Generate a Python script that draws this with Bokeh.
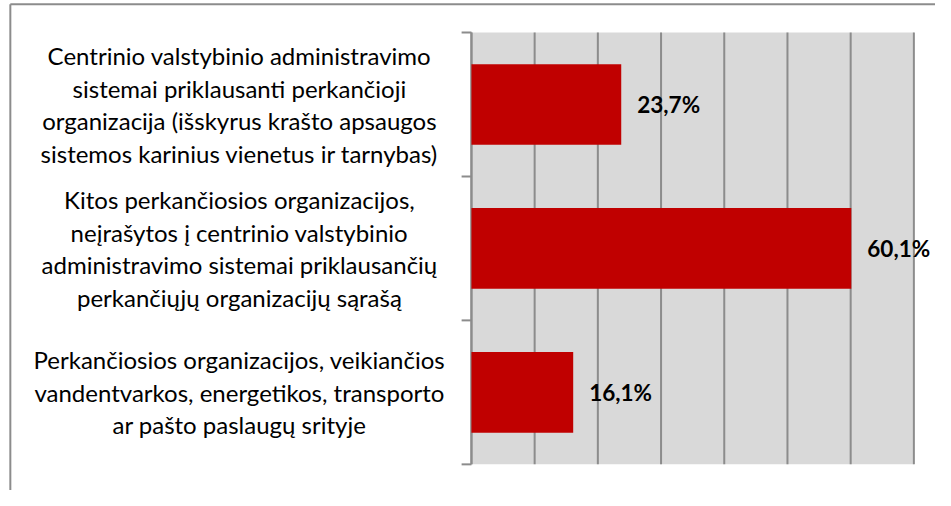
from bokeh.plotting import figure
from bokeh.models import Range1d, ColumnDataSource, BoxAnnotation
from bokeh.embed import file_html
from bokeh.resources import INLINE
from bokeh.core.properties import value

categories = [
    "Centrinio valstybinio administravimo\nsistemai priklausanti perkančioji\norganizacija (išskyrus krašto apsaugos\nsistemos karinius vienetus ir tarnybas)",
    "Kitos perkančiosios organizacijos,\nneįrašytos į centrinio valstybinio\nadministravimo sistemai priklausančių\nperkančiųjų organizacijų sąrašą",
    "Perkančiosios organizacijos, veikiančios\nvandentvarkos, energetikos, transporto\nar pašto paslaugų srityje",
]
shares = [23.7, 60.1, 16.1]
value_labels = ["23,7%", "60,1%", "16,1%"]
x_ticks = [0, 10, 20, 30, 40, 50, 60, 70]

# ---- layout (pixels inside the figure) ----
W, H = 935, 490
SX, SY = W / 951, H / 506
PL, PR, PT, PB = 479 * SX, 929 * SX, 33 * SY, 479 * SY   # plot-area edges
n = len(categories)
xmax = x_ticks[-1]
kx = (PR - PL) / xmax                        # px per % unit
ky = (PB - PT) / n                           # px per category

x_range = Range1d(-PL / kx, (W - PL) / kx)
y_range = Range1d(-(H - PB) / ky, n + PT / ky)

GRID = "#8c8c8c"
p = figure(width=W, height=H, output_backend="svg", toolbar_location=None,
           x_range=x_range, y_range=y_range, min_border=0)
p.axis.visible = False
p.grid.visible = False
p.background_fill_color = "white"
p.border_fill_color = "white"
p.outline_line_color = None

# grey plot area
p.add_layout(BoxAnnotation(left=0, right=xmax, bottom=0, top=n,
                           fill_color="#d9d9d9", fill_alpha=1, line_color=None,
                           level="underlay"))

# vertical grid lines
p.segment(x0=x_ticks, x1=x_ticks, y0=[0] * len(x_ticks), y1=[n] * len(x_ticks),
          line_color=GRID, line_width=2)

# category-axis line and boundary tick marks
bounds = list(range(n + 1))
tick_len = 10 * SX / kx
p.segment(x0=[0], x1=[0], y0=[0], y1=[n], line_color=GRID, line_width=2)
p.segment(x0=[-tick_len] * len(bounds), x1=[0] * len(bounds), y0=bounds, y1=bounds,
          line_color=GRID, line_width=2)

ypos = [n - 0.5 - i for i in range(n)]
src = ColumnDataSource(dict(y=ypos, v=shares, lab=value_labels, cat=categories,
                            cx=[(243 * SX - PL) / kx] * n))

p.hbar(y="y", left=0, right="v", height=0.56, source=src,
       fill_color="#c00000", line_color=None)

p.text(x="v", y="y", text="lab", source=src, x_offset=16,
       text_align="left", text_baseline="middle",
       text_font=value("Lato"), text_font_style="bold",
       text_font_size="22.5px", text_color="black")

p.text(x="cx", y="y", text="cat", source=src,
       text_align="center", text_baseline="middle",
       text_font=value("Lato"), text_font_size="24px",
       text_line_height=1.12, text_color="black")

# outer chart frame (left and top edges)
fx = (10 * SX - PL) / kx
fy = n + (PT - 4 * SY) / ky
p.segment(x0=[fx, fx], x1=[fx, x_range.end + 5], y0=[y_range.start - 1, fy], y1=[fy, fy],
          line_color=GRID, line_width=2)

open("out.html", "w").write(file_html(p, INLINE))
